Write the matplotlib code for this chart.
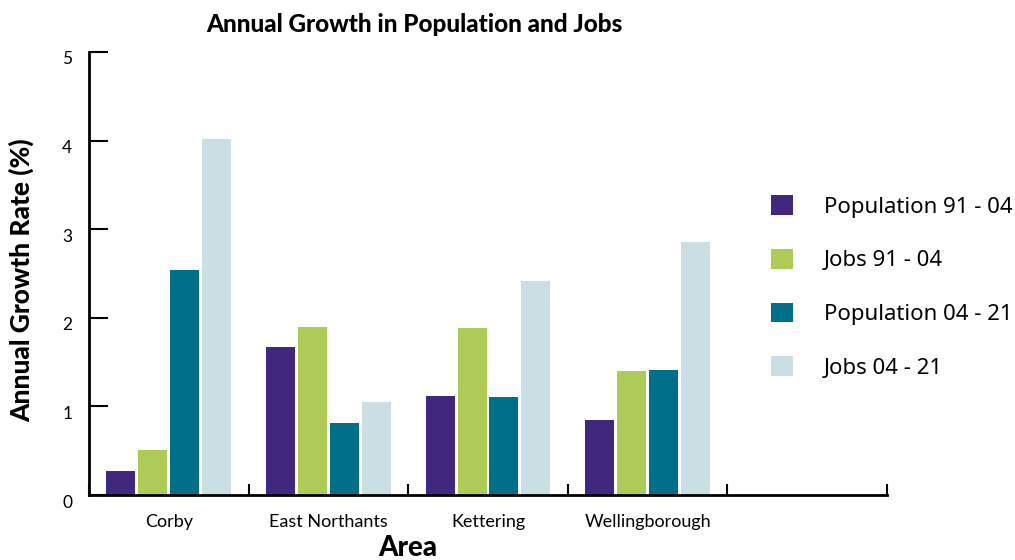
import matplotlib
matplotlib.use("Agg")
import matplotlib.pyplot as plt
import matplotlib.transforms as mtransforms
from matplotlib.patches import Patch
from matplotlib.font_manager import FontProperties
import numpy as np

categories = ["Corby", "East Northants", "Kettering", "Wellingborough"]
series_names = ["Population 91 - 04", "Jobs 91 - 04", "Population 04 - 21", "Jobs 04 - 21"]
pop_91_04 = [0.27, 1.67, 1.12, 0.85]
jobs_91_04 = [0.51, 1.90, 1.88, 1.40]
pop_04_21 = [2.54, 0.81, 1.11, 1.41]
jobs_04_21 = [4.02, 1.05, 2.42, 2.86]
yticks = [0, 1, 2, 3, 4, 5]
colors = ["#42277f", "#aecb58", "#006f89", "#c9dfe4"]

plt.rcParams['font.family'] = ['Lato', 'DejaVu Sans']

fig = plt.figure(figsize=(10.15, 5.60), dpi=100)
ax = fig.add_axes([89/1015, 1-495/560, (887-89)/1015, (495-52)/560])

series = [pop_91_04, jobs_91_04, pop_04_21, jobs_04_21]
n_slots = 5
centers = np.arange(len(categories)) + 0.5
pitch = 0.2
width = 0.182
for i, (vals, c, name) in enumerate(zip(series, colors, series_names)):
    ax.bar(centers + (i - 1.5) * pitch, vals, width=width, color=c, label=name, linewidth=0)

ax.set_xlim(0, n_slots)
ax.set_ylim(0, 5)
ax.set_yticks(yticks)
ax.set_yticklabels([str(t) for t in yticks], fontsize=12.5)
ax.set_xticks(np.arange(n_slots + 1))
ax.set_xticklabels([])
ax.set_xticks(centers, minor=True)
ax.set_xticklabels(categories, minor=True, fontsize=13)
ax.tick_params(axis='x', which='minor', length=0, pad=14)
ax.tick_params(axis='x', which='major', direction='in', length=8, width=1.5)
ax.tick_params(axis='y', direction='in', length=14, width=1.5, pad=12)

for lab in ax.get_yticklabels():
    lab.set_transform(lab.get_transform() + mtransforms.ScaledTranslation(0, -6/100, fig.dpi_scale_trans))

for s in ['top', 'right']:
    ax.spines[s].set_visible(False)
for s in ['left', 'bottom']:
    ax.spines[s].set_linewidth(2)
    ax.spines[s].set_color('black')

fig.text(414/1015, 1-24/560, "Annual Growth in Population and Jobs", ha='center', va='center',
         fontsize=17.5, fontweight='black')
fig.text(22/1015, 1-280/560, "Annual Growth Rate (%)", rotation=90, ha='center', va='center',
         fontsize=19, fontweight='black')
fig.text(408/1015, 1-548/560, "Area", ha='center', va='center', fontsize=20, fontweight='black')

handles = [Patch(facecolor=c, edgecolor='none') for c in colors]
fig.legend(handles, series_names, loc='center left', bbox_to_anchor=(751/1015, 1-287/560),
           frameon=False, handlelength=0.99, handleheight=0.99,
           labelspacing=1.4, handletextpad=1.4, prop=FontProperties(family='Noto Sans', size=16))

fig.savefig("out.png", dpi=100)
